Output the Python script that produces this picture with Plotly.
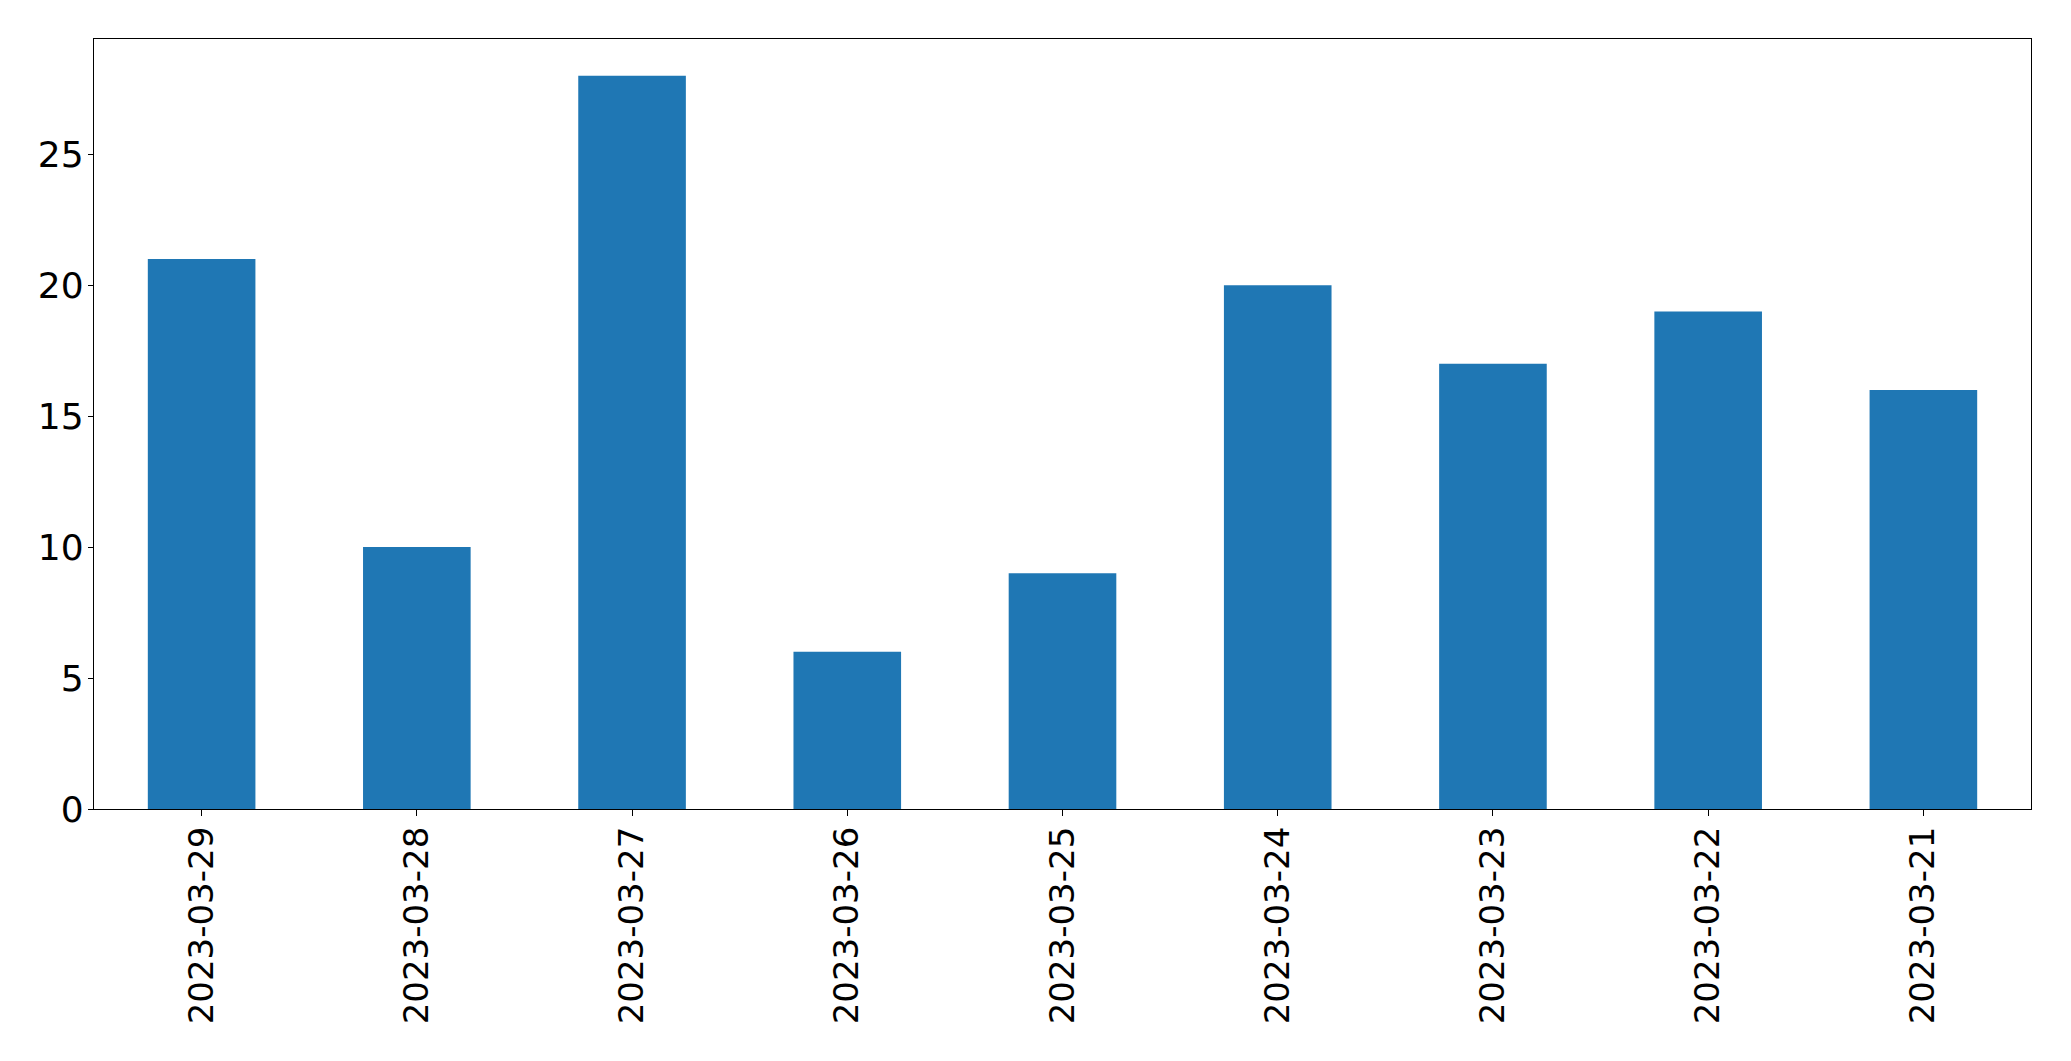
import plotly.graph_objects as go

dates = ["2023-03-29", "2023-03-28", "2023-03-27", "2023-03-26", "2023-03-25",
         "2023-03-24", "2023-03-23", "2023-03-22", "2023-03-21"]
counts = [21, 10, 28, 6, 9, 20, 17, 19, 16]
y_ticks = [0, 5, 10, 15, 20, 25]

fig = go.Figure(go.Bar(x=dates, y=counts, marker=dict(color="#1f77b4", line=dict(width=0)), width=0.5))

# page body has an 8px margin, so the figure is shifted by 8px; compensate
fig.update_layout(
    width=2063, height=1053,
    margin=dict(l=86, r=40, t=31, b=252, autoexpand=False),
    paper_bgcolor="white", plot_bgcolor="white",
    font=dict(family="DejaVu Sans", size=36, color="black"),
    showlegend=False,
    bargap=0.5,
)
fig.update_xaxes(
    type="category", range=[-0.5, 8.5],
    tickangle=-90, ticks="outside", ticklen=6, tickwidth=1.3, tickcolor="black",
    tickfont=dict(size=34),
    showline=True, linecolor="black", linewidth=1.3, mirror=True,
    showgrid=False, zeroline=False, ticklabelstandoff=-3,
)
fig.update_yaxes(
    range=[0, 29.4], tickvals=y_ticks, ticktext=[str(v) for v in y_ticks],
    ticks="outside", ticklen=5, tickwidth=1.3, tickcolor="black",
    tickfont=dict(size=36),
    showline=True, linecolor="black", linewidth=1.3, mirror=True,
    showgrid=False, zeroline=False, ticklabelstandoff=-3,
)

fig.write_html("out.html")
